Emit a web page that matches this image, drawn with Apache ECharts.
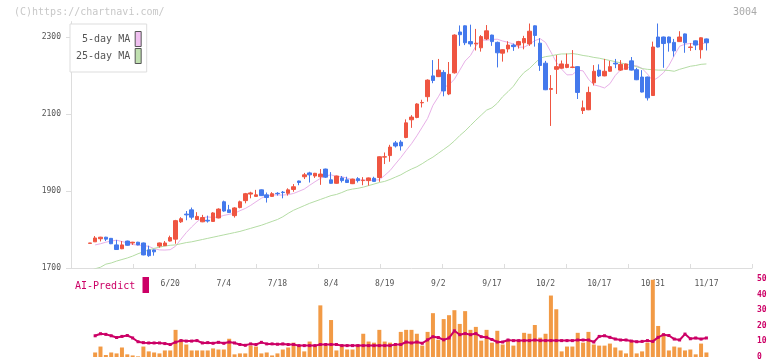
<!DOCTYPE html>
<html><head><meta charset="utf-8">
<script src="https://cdn.jsdelivr.net/npm/echarts@6/dist/echarts.min.js"></script>
<style>html,body{margin:0;padding:0;background:#fff}#c{width:772px;height:361px}</style>
</head><body><div id="c"></div>
<script>
const dates = ['5/30','6/2','6/3','6/4','6/5','6/6','6/9','6/10','6/11','6/12','6/13','6/16','6/17','6/18','6/19','6/20','6/23','6/24','6/25','6/26','6/27','6/30','7/1','7/2','7/3','7/4','7/7','7/8','7/9','7/10','7/11','7/14','7/15','7/16','7/17','7/18','7/22','7/23','7/24','7/25','7/28','7/29','7/30','7/31','8/1','8/4','8/5','8/6','8/7','8/8','8/12','8/13','8/14','8/15','8/18','8/19','8/20','8/21','8/22','8/25','8/26','8/27','8/28','8/29','9/1','9/2','9/3','9/4','9/5','9/8','9/9','9/10','9/11','9/12','9/16','9/17','9/18','9/19','9/22','9/24','9/25','9/26','9/29','9/30','10/1','10/2','10/3','10/6','10/7','10/8','10/9','10/10','10/14','10/15','10/16','10/17','10/20','10/21','10/22','10/23','10/24','10/27','10/28','10/29','10/30','10/31','11/4','11/5','11/6','11/7','11/10','11/11','11/12','11/13','11/14','11/17'];
const opens = [1764,1768,1776,1780,1777,1760,1750,1770,1765,1767,1765,1747,1747,1757,1758,1770,1775,1820,1840,1851,1826,1820,1824,1821,1830,1872,1851,1836,1857,1875,1892,1886,1903,1890,1886,1894,1897,1894,1904,1926,1937,1947,1939,1937,1957,1929,1920,1934,1929,1919,1932,1927,1927,1933,1935,1988,1992,2025,2027,2039,2085,2091,2129,2145,2199,2197,2208,2152,2207,2313,2329,2288,2282,2272,2295,2305,2286,2258,2269,2279,2279,2285,2282,2329,2284,2232,2164,2216,2219,2221,2221,2223,2109,2111,2181,2214,2199,2211,2232,2214,2216,2238,2215,2196,2196,2148,2300,2300,2300,2286,2288,2308,2273,2290,2267,2295];
const closes = [1765,1778,1780,1775,1763,1748,1760,1759,1767,1760,1734,1732,1742,1765,1765,1779,1823,1828,1838,1832,1834,1831,1822,1843,1853,1848,1844,1856,1872,1893,1895,1890,1888,1883,1893,1893,1896,1903,1911,1922,1942,1942,1946,1944,1936,1920,1939,1927,1922,1931,1927,1928,1934,1925,1989,1989,2014,2017,2017,2077,2092,2126,2130,2188,2187,2214,2160,2203,2305,2306,2285,2282,2284,2301,2316,2288,2259,2267,2279,2275,2288,2296,2315,2304,2226,2163,2166,2223,2230,2229,2222,2156,2116,2156,2211,2199,2211,2223,2230,2229,2230,2214,2189,2157,2142,2274,2274,2283,2285,2264,2300,2285,2274,2279,2298,2285];
const lows = [1764,1768,1769,1770,1762,1747,1749,1758,1760,1759,1733,1729,1732,1753,1757,1769,1763,1817,1824,1826,1825,1819,1818,1820,1829,1846,1843,1831,1855,1868,1881,1885,1887,1870,1885,1888,1881,1888,1898,1915,1931,1922,1934,1916,1934,1919,1919,1922,1921,1918,1922,1915,1914,1924,1924,1970,1976,2013,2005,2037,2064,2089,2117,2132,2180,2196,2146,2149,2205,2277,2279,2275,2265,2262,2292,2277,2221,2236,2260,2264,2270,2268,2277,2275,2212,2162,2069,2152,2218,2219,2219,2139,2100,2110,2174,2196,2198,2210,2219,2212,2215,2213,2188,2156,2135,2147,2273,2220,2262,2249,2287,2259,2264,2266,2244,2265];
const highs = [1765,1783,1781,1781,1778,1773,1770,1771,1768,1768,1766,1758,1748,1766,1770,1784,1825,1832,1848,1857,1845,1838,1836,1845,1855,1875,1864,1858,1875,1895,1898,1903,1904,1896,1897,1897,1900,1907,1918,1927,1947,1950,1947,1957,1958,1949,1940,1939,1937,1932,1936,1936,1935,1937,1990,2000,2020,2030,2032,2086,2097,2128,2137,2190,2240,2243,2214,2235,2307,2330,2330,2332,2321,2305,2331,2306,2288,2268,2289,2283,2290,2303,2335,2330,2297,2238,2201,2253,2239,2257,2266,2224,2135,2171,2227,2229,2243,2238,2243,2240,2231,2248,2220,2214,2197,2288,2335,2301,2301,2295,2315,2309,2284,2291,2299,2296];
const ma25 = [1693,1698,1702,1710,1713,1718,1722,1726,1731,1737,1742,1747,1751,1754,1757,1759,1760,1763,1766,1768,1771,1774,1777,1780,1783,1786,1789,1792,1795,1799,1803,1807,1811,1816,1821,1826,1833,1842,1850,1856,1862,1868,1873,1878,1883,1888,1891,1896,1902,1905,1907,1910,1914,1918,1922,1925,1930,1936,1942,1950,1957,1963,1971,1980,1988,1998,2008,2018,2030,2044,2056,2070,2084,2097,2110,2116,2128,2145,2158,2172,2192,2208,2218,2232,2245,2249,2251,2254,2256,2256,2257,2255,2252,2250,2247,2245,2242,2239,2236,2233,2229,2227,2223,2218,2216,2215,2214,2214,2213,2211,2216,2220,2224,2226,2229,2230];
const ma5Start = [1760,1763,1767,1770];
const volumes = [null,2.9,6.7,1.3,2.9,2.3,6.1,1.7,1.0,0.4,6.7,3.6,2.9,2.3,4.2,4.2,17.4,11.1,8.0,4.2,4.2,4.2,4.2,5.5,4.8,4.8,11.7,1.7,2.3,2.3,7.3,6.7,2.3,2.9,1.0,2.3,4.8,6.1,9.2,7.3,3.6,9.9,7.3,33.1,7.3,23.7,4.2,8.0,4.8,4.8,8.0,14.9,9.9,9.2,17.4,9.9,9.2,7.3,16.1,17.4,17.4,14.9,7.3,16.1,28.1,11.1,24.3,26.8,30.0,21.2,29.4,17.4,19.3,10.5,17.4,9.2,16.8,8.0,10.5,7.3,10.5,15.5,14.9,20.5,12.4,14.9,39.4,30.6,3.6,6.7,6.7,15.5,9.2,16.1,8.0,7.3,7.3,8.6,6.1,4.2,2.3,10.5,2.3,3.6,9.2,49.5,19.9,14.9,4.2,6.7,6.1,4.2,4.8,1.7,8.6,2.9];
const aiPredict = [null,13.6,14.9,14.5,13.6,12.5,13.2,13.8,12.2,9.8,9.2,9.0,9.0,9.0,8.6,8.0,9.5,10.5,10.2,10.2,10.5,9.0,9.2,8.8,9.4,8.8,9.6,9.0,8.0,7.5,8.4,8.0,9.4,8.4,8.4,8.2,8.4,8.0,8.0,7.3,7.3,7.3,7.3,8.0,8.0,8.0,8.0,7.3,7.3,7.3,7.3,7.3,7.3,7.3,7.3,7.3,7.3,8.0,8.0,9.6,9.0,9.6,8.8,11.0,13.0,12.5,11.0,12.2,16.8,14.3,15.0,14.3,15.0,13.0,12.6,11.2,9.6,9.6,10.9,10.5,10.5,10.5,10.5,10.9,10.5,10.5,10.5,10.5,10.5,10.5,10.5,10.9,10.9,10.9,9.6,13.2,13.6,12.6,11.5,10.9,10.9,10.2,9.8,10.0,10.5,10.0,12.6,14.3,13.8,11.5,10.9,14.7,11.7,12.2,11.5,12.2];
const dateLabels = ['6/20','7/4','7/18','8/4','8/19','9/2','9/17','10/2','10/17','10/31','11/17'];
const priceTicks = [1700,1900,2100,2300];
const PAD_BEFORE = 3, PAD_AFTER = 8;

const FONT = '"DejaVu Sans Mono", "Liberation Mono", monospace';
const cats = [];
for (let k = 0; k < PAD_BEFORE; k++) cats.push('pre' + k);
dates.forEach(d => cats.push(d));
for (let k = 0; k < PAD_AFTER; k++) cats.push('post' + k);
const pad = arr => [].concat(Array(PAD_BEFORE).fill('-'), arr.map(v => v == null ? '-' : v), Array(PAD_AFTER).fill('-'));
const candleData = pad(dates.map((d, j) => [opens[j], closes[j], lows[j], highs[j]]));
const ma5 = dates.map((d, j) => j === 0 ? null : (j < 5 ? ma5Start[j - 1] : Math.round(closes.slice(j - 5, j).reduce((a, b) => a + b, 0) / 5 * 10) / 10));

const chart = echarts.init(document.getElementById('c'), null, {renderer: 'canvas'});
chart.setOption({
  animation: false,
  backgroundColor: '#fff',
  grid: [
    {left: 71, width: 681, top: 21.6, height: 246.4},
    {left: 71, width: 681, top: 279, height: 79}
  ],
  legend: {
    show: true, orient: 'vertical', left: 70, top: 24, align: 'right',
    itemWidth: 6, itemHeight: 15, itemGap: 1, padding: [7, 5, 8, 6],
    borderColor: '#ddd', borderWidth: 1, backgroundColor: '#fff', selectedMode: false,
    textStyle: {fontFamily: FONT, fontSize: 10, color: '#555'},
    data: [
      {name: '5-day MA', icon: 'rect', itemStyle: {color: '#f0c0f0', borderColor: '#555', borderWidth: 1}},
      {name: '25-day MA', icon: 'rect', itemStyle: {color: '#c0e0b0', borderColor: '#555', borderWidth: 1}}
    ]
  },
  xAxis: [
    {type: 'category', gridIndex: 0, data: cats, position: 'bottom', boundaryGap: true,
     axisLine: {show: false}, axisTick: {show: false}, splitLine: {show: false},
     axisLabel: {interval: (idx, val) => dateLabels.includes(val), margin: 12, color: '#555', fontSize: 8, fontFamily: FONT}},
    {type: 'value', gridIndex: 0, min: 0, max: 11, interval: 1, position: 'bottom',
     axisLine: {show: true, lineStyle: {color: '#ddd'}},
     axisTick: {show: true, inside: true, length: 4, lineStyle: {color: '#ddd'}},
     axisLabel: {show: false}, splitLine: {show: false}},
    {type: 'category', gridIndex: 1, data: cats, boundaryGap: true, show: false}
  ],
  yAxis: [
    {type: 'value', gridIndex: 0, min: 1700, max: 2340, position: 'left',
     axisLine: {show: true, lineStyle: {color: '#ddd'}},
     axisTick: {show: true, length: 5, customValues: priceTicks, lineStyle: {color: '#ddd'}},
     axisLabel: {customValues: priceTicks, formatter: v => String(v), margin: 10, color: '#555', fontSize: 8, fontFamily: FONT},
     splitLine: {show: false}},
    {type: 'value', gridIndex: 1, min: 0, max: 50, interval: 10, position: 'right',
     axisLine: {show: false}, axisTick: {show: false}, splitLine: {show: false},
     axisLabel: {margin: 5, color: '#cc0066', fontSize: 8, fontWeight: 'bold', fontFamily: FONT}}
  ],
  series: [
    {type: 'candlestick', name: 'price', xAxisIndex: 0, yAxisIndex: 0, data: candleData, barWidth: 4,
     itemStyle: {color: '#ef5541', color0: '#4479ec', borderColor: '#ef5541', borderColor0: '#4479ec', borderWidth: 1}},
    {type: 'line', name: '5-day MA', xAxisIndex: 0, yAxisIndex: 0, data: pad(ma5), symbol: 'none',
     lineStyle: {color: '#e8b0e8', width: 1}, itemStyle: {color: '#f0c0f0'}, z: 1},
    {type: 'line', name: '25-day MA', xAxisIndex: 0, yAxisIndex: 0, data: pad(ma25), symbol: 'none',
     lineStyle: {color: '#b4dca4', width: 1}, itemStyle: {color: '#c0e0b0'}, z: 1},
    {type: 'bar', name: 'volume', xAxisIndex: 2, yAxisIndex: 1, data: pad(volumes), barWidth: 4,
     itemStyle: {color: '#f29a45'}},
    {type: 'line', name: 'AI-Predict', xAxisIndex: 2, yAxisIndex: 1, data: pad(aiPredict),
     symbol: 'rect', symbolSize: 3, showAllSymbol: true,
     lineStyle: {color: '#cc0066', width: 2}, itemStyle: {color: '#cc0066'}}
  ],
  graphic: [
    {type: 'text', left: 14, top: 7, style: {text: '(C)https://chartnavi.com/', font: '10px ' + FONT, fill: '#c8c8c8'}},
    {type: 'text', left: 733, top: 7, style: {text: '3004', font: '10px ' + FONT, fill: '#aaa'}},
    {type: 'text', left: 75, top: 281, style: {text: 'AI-Predict', font: '10px ' + FONT, fill: '#cc0066'}},
    {type: 'rect', shape: {x: 142.5, y: 277, width: 6.5, height: 16}, style: {fill: '#cc0066'}}
  ]
});
</script></body></html>
